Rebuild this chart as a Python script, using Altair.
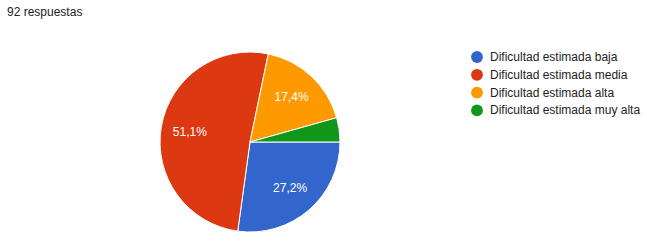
import math
import altair as alt
import pandas as pd

titulo = ["92 respuestas"]
categorias = [
    "Dificultad estimada baja",
    "Dificultad estimada media",
    "Dificultad estimada alta",
    "Dificultad estimada muy alta",
]
respuestas = [25, 47, 16, 4]
etiquetas = ["27,2%", "51,1%", "17,4%", ""]
colores = ["#3366cc", "#dc3912", "#ff9900", "#109618"]

FONT = "Liberation Sans"

df = pd.DataFrame({
    "cat": categorias,
    "n": respuestas,
    "etq": etiquetas,
    "orden": list(range(len(categorias))),
})
df_t = pd.DataFrame({"t": titulo})

theta_scale = alt.Scale(range=[math.pi / 2, math.pi / 2 + 2 * math.pi])

base = alt.Chart(df).encode(
    theta=alt.Theta("n:Q", stack=True, scale=theta_scale),
    order=alt.Order("orden:Q"),
)

arc = base.mark_arc(outerRadius=90, stroke="white", strokeWidth=1).encode(
    x=alt.value(250),
    y=alt.value(142),
    color=alt.Color(
        "cat:N",
        scale=alt.Scale(domain=categorias, range=colores),
        legend=alt.Legend(
            title=None,
            orient="none",
            legendX=471,
            legendY=51,
            symbolType="circle",
            symbolSize=140,
            symbolStrokeWidth=0,
            labelFontSize=12,
            labelFont=FONT,
            labelColor="#222222",
            labelOffset=7,
            rowPadding=5.8,
            padding=0,
        ),
    ),
)

text = base.mark_text(radius=61, fontSize=12, font=FONT).encode(
    x=alt.value(250),
    y=alt.value(142),
    text="etq:N",
    color=alt.value("white"),
)

title = alt.Chart(df_t).mark_text(
    align="left", baseline="middle", fontSize=12, font=FONT, color="#222222"
).encode(x=alt.value(7), y=alt.value(12), text="t:N")

chart = (
    alt.layer(arc, text, title)
    .properties(width=647, height=241, padding=0, autosize=alt.AutoSizeParams(type="none"))
    .configure(background="white")
    .configure_view(stroke=None)
)

chart.save("out.html", embed_options={"renderer": "svg", "actions": False})
